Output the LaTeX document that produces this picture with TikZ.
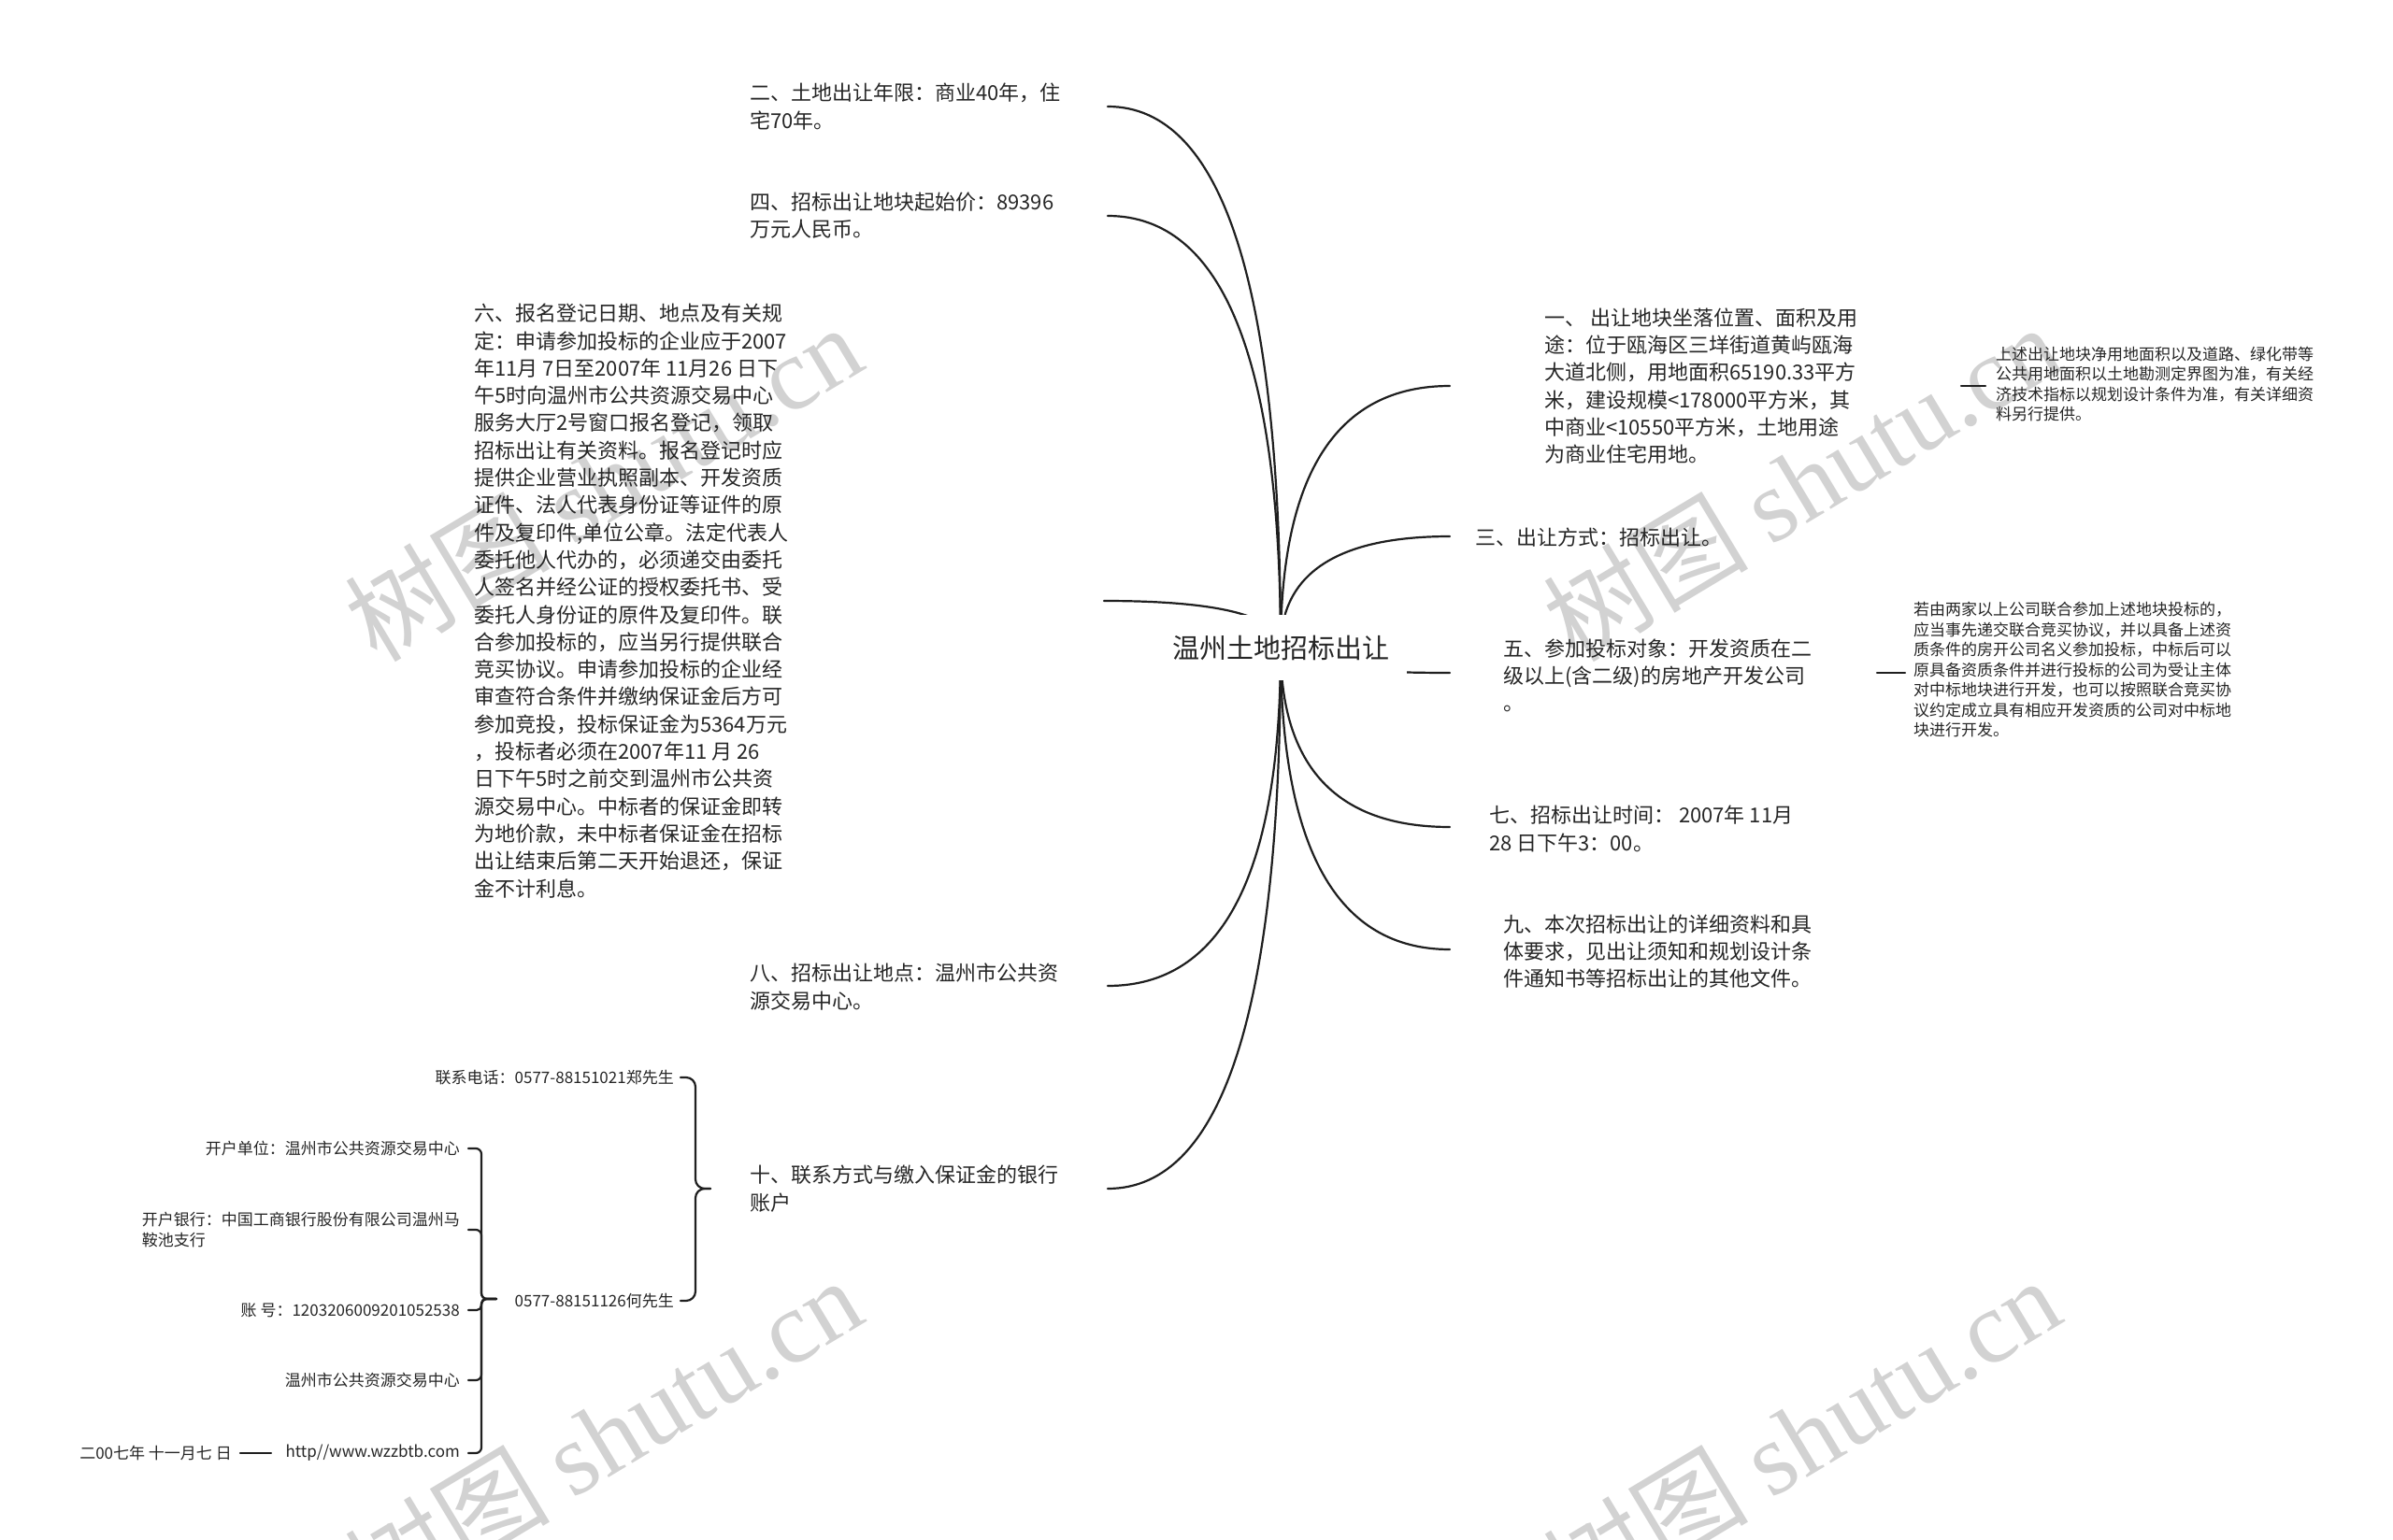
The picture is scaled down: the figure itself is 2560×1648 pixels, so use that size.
\documentclass[tikz,border=0pt]{standalone}
\usepackage{fontspec}
\setmainfont{Noto Sans CJK SC}
\newfontfamily\wmlatin{Liberation Serif}
\usetikzlibrary{calc}
\pgfdeclarelayer{wm}
\pgfdeclarelayer{bg}
\pgfsetlayers{wm,bg,main}
\tikzset{
  link/.style={line width=2.2pt, draw=black!88, line cap=round},
  mtext/.style={font=\fontsize{22pt}{29.3pt}\selectfont, align=left, inner sep=0pt, text=black!85},
  stext/.style={font=\fontsize{17pt}{21.5pt}\selectfont, align=left, inner sep=0pt, text=black!85},
  rootnode/.style={font=\fontsize{29pt}{34pt}\selectfont, fill=white, inner sep=0pt, minimum width=270pt, minimum height=70pt, text=black!85},
  wmark/.style={font=\fontsize{110pt}{110pt}\selectfont, text=gray!35, rotate=31, inner sep=0pt},
}
\newcommand\mmlink[2]{\draw[link] (#1) .. controls ($(#1)!0.6667!(#1|-#2)$) and ($(#2)!0.6667!(#1|-#2)$) .. (#2);}
\begin{document}
\begin{tikzpicture}[x=1pt,y=-1pt]
\begin{pgfonlayer}{wm}
\path[fill=white] (0,0) rectangle (2560,1648);
\end{pgfonlayer}
\path[use as bounding box] (0,0) rectangle (2560,1648);

% watermarks
\begin{pgfonlayer}{wm}
\node[wmark] (wm1) at (645,516) {树图 {\wmlatin shutu.cn}};
\node[wmark] (wm2) at (1927,516) {树图 {\wmlatin shutu.cn}};
\node[wmark] (wm3) at (645,1536) {树图 {\wmlatin shutu.cn}};
\node[wmark] (wm4) at (1927,1536) {树图 {\wmlatin shutu.cn}};
\end{pgfonlayer}

% root
\node[rootnode] (root) at (1370,693) {温州土地招标出让};

% connector end points
\coordinate (c2) at (1185,114);
\coordinate (c4) at (1185,231);
\coordinate (c6) at (1181,643);
\coordinate (c8) at (1185,1055);
\coordinate (c10) at (1185,1272);
\coordinate (c1) at (1551,413);
\coordinate (c3) at (1551,574);
\coordinate (c5) at (1551,720);
\coordinate (c7) at (1551,885);
\coordinate (c9) at (1551,1016);

% left main nodes
\node[mtext, anchor=west] (n2) at (802,114) {二、土地出让年限：商业40年，住\\宅70年。};
\node[mtext, anchor=west] (n4) at (802,231) {四、招标出让地块起始价：89396\\万元人民币。};
\node[mtext, anchor=west] (n6) at (507,643) {六、报名登记日期、地点及有关规\\定：申请参加投标的企业应于2007\\年11月 7日至2007年 11月26 日下\\午5时向温州市公共资源交易中心\\服务大厅2号窗口报名登记，领取\\招标出让有关资料。报名登记时应\\提供企业营业执照副本、开发资质\\证件、法人代表身份证等证件的原\\件及复印件,单位公章。法定代表人\\委托他人代办的，必须递交由委托\\人签名并经公证的授权委托书、受\\委托人身份证的原件及复印件。联\\合参加投标的，应当另行提供联合\\竞买协议。申请参加投标的企业经\\审查符合条件并缴纳保证金后方可\\参加竞投，投标保证金为5364万元\\，投标者必须在2007年11 月 26\\日下午5时之前交到温州市公共资\\源交易中心。中标者的保证金即转\\为地价款，未中标者保证金在招标\\出让结束后第二天开始退还，保证\\金不计利息。};
\node[mtext, anchor=west] (n8) at (802,1056) {八、招标出让地点：温州市公共资\\源交易中心。};
\node[mtext, anchor=west] (n10) at (802,1272) {十、联系方式与缴入保证金的银行\\账户};

% right main nodes
\node[mtext, anchor=west] (n1) at (1652,413) {一、 出让地块坐落位置、面积及用\\途：位于瓯海区三垟街道黄屿瓯海\\大道北侧，用地面积65190.33平方\\米，建设规模<178000平方米，其\\中商业<10550平方米，土地用途\\为商业住宅用地。};
\node[mtext, anchor=west] (n3) at (1578,575) {三、出让方式：招标出让。};
\node[mtext, anchor=west] (n5) at (1608,723) {五、参加投标对象：开发资质在二\\级以上(含二级)的房地产开发公司\\\vphantom{国}。};
\node[mtext, anchor=west] (n7) at (1593,887) {七、招标出让时间： 2007年 11月\\28 日下午3：00。};
\node[mtext, anchor=west] (n9) at (1608,1018) {九、本次招标出让的详细资料和具\\体要求，见出让须知和规划设计条\\件通知书等招标出让的其他文件。};

% right children
\node[stext, anchor=west] (n1a) at (2135,411) {上述出让地块净用地面积以及道路、绿化带等\\公共用地面积以土地勘测定界图为准，有关经\\济技术指标以规划设计条件为准，有关详细资\\料另行提供。};
\node[stext, anchor=west] (n5a) at (2047,717) {若由两家以上公司联合参加上述地块投标的，\\应当事先递交联合竞买协议，并以具备上述资\\质条件的房开公司名义参加投标，中标后可以\\原具备资质条件并进行投标的公司为受让主体\\对中标地块进行开发，也可以按照联合竞买协\\议约定成立具有相应开发资质的公司对中标地\\块进行开发。};
\coordinate (c1s) at (2098,413);
\coordinate (c1a) at (2124,413);
\coordinate (c5s) at (2008,720);
\coordinate (c5a) at (2038,720);

% bottom-left nodes
\node[stext, anchor=east] (k1) at (721,1153) {联系电话：0577-88151021郑先生};
\node[stext, anchor=east] (k2) at (721,1392) {0577-88151126何先生};
\node[stext, anchor=east] (a1) at (492,1229) {开户单位：温州市公共资源交易中心};
\node[stext, anchor=east] (a2) at (492,1316) {开户银行：中国工商银行股份有限公司温州马\\鞍池支行};
\node[stext, anchor=east] (a3) at (492,1402) {账 号：1203206009201052538};
\node[stext, anchor=east] (a4) at (492,1477) {温州市公共资源交易中心};
\node[stext, anchor=east] (a5) at (492,1555) {http//www.wzzbtb.com};
\node[stext, anchor=east] (dt) at (248,1555) {二00七年 十一月七 日};

\coordinate (t10) at (760,1272);
\coordinate (k1e) at (728,1153);
\coordinate (k2e) at (728,1392);
\coordinate (k2s) at (531,1390);
\coordinate (a1e) at (501,1229);
\coordinate (a2e) at (501,1316);
\coordinate (a3e) at (501,1402);
\coordinate (a4e) at (501,1477);
\coordinate (a5e) at (501,1555);
\coordinate (a5s) at (290,1555);
\coordinate (dte) at (257,1555);

\begin{pgfonlayer}{bg}
\mmlink{root.center}{c2}
\mmlink{root.center}{c4}
\mmlink{root.center}{c6}
\mmlink{root.center}{c8}
\mmlink{root.center}{c10}
\mmlink{root.center}{c1}
\mmlink{root.center}{c3}
\mmlink{root.center}{c5}
\mmlink{root.center}{c7}
\mmlink{root.center}{c9}
\draw[link] (c1s) -- (c1a);
\draw[link] (c5s) -- (c5a);
\draw[link, rounded corners=10pt] (t10) -- (744,1272) -- (744,1153) -- (k1e);
\draw[link, rounded corners=10pt] (t10) -- (744,1272) -- (744,1392) -- (k2e);
\draw[link, rounded corners=6pt] (k2s) -- (515,1390) -- (515,1229) -- (a1e);
\draw[link, rounded corners=6pt] (k2s) -- (515,1390) -- (515,1316) -- (a2e);
\draw[link, rounded corners=5pt] (k2s) -- (515,1390) -- (515,1402) -- (a3e);
\draw[link, rounded corners=6pt] (k2s) -- (515,1390) -- (515,1477) -- (a4e);
\draw[link, rounded corners=6pt] (k2s) -- (515,1390) -- (515,1555) -- (a5e);
\draw[link] (a5s) -- (dte);
\end{pgfonlayer}
\end{tikzpicture}
\end{document}
